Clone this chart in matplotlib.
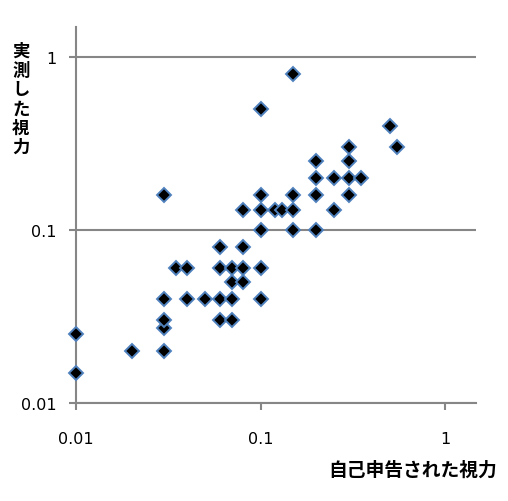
import matplotlib
matplotlib.use("Agg")
import matplotlib.pyplot as plt
from matplotlib.ticker import FixedLocator, NullLocator

# 自己申告された視力 / 実測した視力
self_reported = [0.01, 0.01, 0.02, 0.03, 0.03, 0.03, 0.03, 0.03,
                 0.035, 0.04, 0.04, 0.05, 0.06, 0.06, 0.06, 0.06,
                 0.07, 0.07, 0.07, 0.07, 0.08, 0.08, 0.08, 0.08,
                 0.1, 0.1, 0.1, 0.1, 0.1, 0.1, 0.12, 0.13,
                 0.15, 0.15, 0.15, 0.15, 0.2, 0.2, 0.2, 0.2,
                 0.25, 0.25, 0.3, 0.3, 0.3, 0.3, 0.35, 0.5, 0.55]
measured = [0.025, 0.015, 0.02, 0.02, 0.027, 0.03, 0.04, 0.16,
            0.06, 0.06, 0.04, 0.04, 0.04, 0.06, 0.08, 0.03,
            0.06, 0.05, 0.04, 0.03, 0.06, 0.05, 0.08, 0.13,
            0.06, 0.04, 0.1, 0.13, 0.16, 0.5, 0.13, 0.13,
            0.13, 0.16, 0.1, 0.8, 0.1, 0.16, 0.2, 0.25,
            0.2, 0.13, 0.3, 0.25, 0.2, 0.16, 0.2, 0.4, 0.3]

tick_vals = [0.01, 0.1, 1]
tick_labels = ["0.01", "0.1", "1"]

grey = "#868686"

fig = plt.figure(figsize=(5.08, 5.02), dpi=100)
ax = fig.add_axes([0.1496, 0.1952, 0.7874, 0.749])

ax.plot(self_reported, measured, linestyle="none", marker="D",
        markersize=7.0, markerfacecolor="black", markeredgecolor="#4f81bd",
        markeredgewidth=1.4, clip_on=False, zorder=3)

ax.set_xscale("log")
ax.set_yscale("log")
ax.set_xlim(0.01, 1.47)
ax.set_ylim(0.01, 1.49)

ax.xaxis.set_major_locator(FixedLocator(tick_vals))
ax.yaxis.set_major_locator(FixedLocator(tick_vals))
ax.xaxis.set_minor_locator(NullLocator())
ax.yaxis.set_minor_locator(NullLocator())
ax.set_xticklabels(tick_labels, fontsize=11.5, family="DejaVu Sans")
ax.set_yticklabels(tick_labels, fontsize=11.5, family="DejaVu Sans")
ax.tick_params(axis="x", direction="out", length=5, width=1.5, color=grey, pad=15)
ax.tick_params(axis="y", direction="out", length=5, width=1.5, color=grey, pad=9)

ax.grid(axis="y", color=grey, linewidth=1.5)
ax.set_axisbelow(True)

for side in ["top", "right"]:
    ax.spines[side].set_visible(False)
for side in ["left", "bottom"]:
    ax.spines[side].set_color(grey)
    ax.spines[side].set_linewidth(1.5)

fig.text(0.041, 0.914, "\n".join("実測した視力"), ha="center", va="top",
         fontsize=12.5, fontweight="bold", linespacing=1.08,
         family=["Noto Sans CJK JP", "DejaVu Sans"])
fig.text(0.978, 0.064, "自己申告された視力", ha="right", va="center",
         fontsize=13.5, fontweight="bold",
         family=["Noto Sans CJK JP", "DejaVu Sans"])

fig.savefig("out.png", dpi=100)
